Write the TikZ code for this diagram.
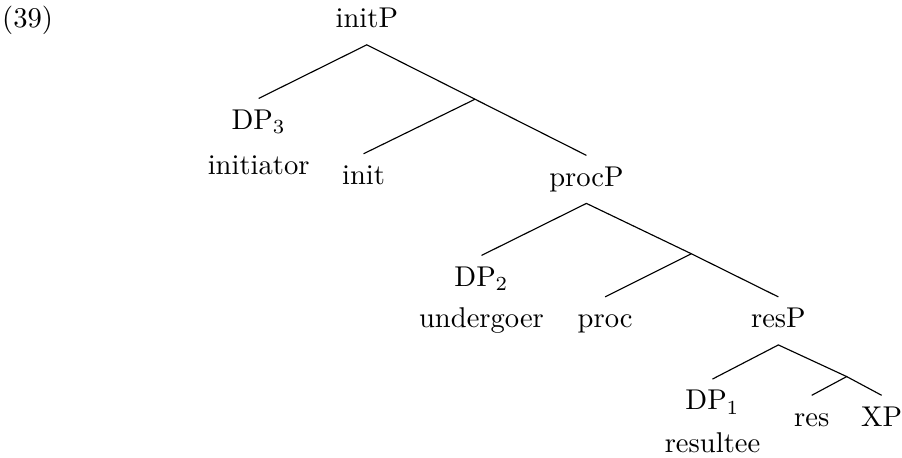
\documentclass[tikz,border=0pt]{standalone}
\begin{document}
\begin{tikzpicture}[lbl/.style={anchor=base,text height=8pt,text depth=3.2pt,inner ysep=2.6pt}]
                \useasboundingbox (0,0) rectangle (11.09,-5.63);
                \node[lbl] (ex) at (0.34,-0.34) {(39)};
                \node[lbl] (initP) at (4.51,-0.34) {initP};
                \node[lbl] (dp3) at (3.18,-1.59) {DP\(_3\)};
                \node[lbl] (initiator) at (3.18,-2.15) {initiator};
                \node[lbl] (init) at (4.47,-2.27) {init};
                \node[lbl] (procP) at (7.21,-2.29) {procP};
                \node[lbl] (dp2) at (5.92,-3.52) {DP\(_2\)};
                \node[lbl] (undergoer) at (5.92,-4.03) {undergoer};
                \node[lbl] (proc) at (7.44,-4.03) {proc};
                \node[lbl] (resP) at (9.57,-4.03) {resP};
                \node[lbl] (dp1) at (8.76,-5.04) {DP\(_1\)};
                \node[lbl] (resultee) at (8.76,-5.56) {resultee};
                \node[lbl] (res) at (9.98,-5.24) {res};
                \node[lbl] (xp) at (10.84,-5.24) {XP};
                \coordinate (j1) at (5.84,-1.22);
                \coordinate (j2) at (8.50,-3.12);
                \coordinate (j3) at (10.41,-4.63);
                \draw (dp3.north) -- (initP.south) -- (j1) -- (procP.north);
                \draw (j1) -- (init.north);
                \draw (dp2.north) -- (procP.south) -- (j2) -- (resP.north);
                \draw (j2) -- (proc.north);
                \draw (dp1.north) -- (resP.south) -- (j3) -- (xp.north);
                \draw (j3) -- (res.north);
            \end{tikzpicture}
\end{document}
